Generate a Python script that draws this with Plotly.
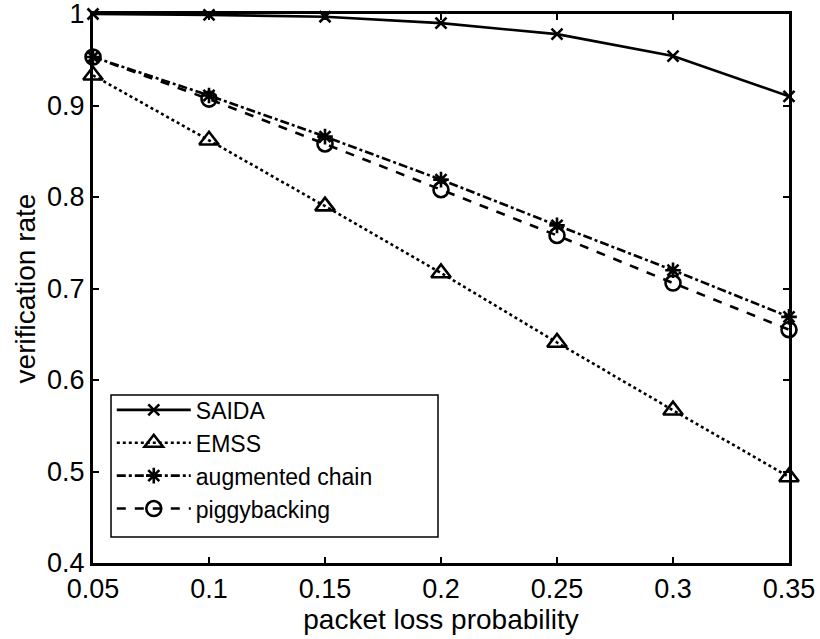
import plotly.graph_objects as go

x_vals = [0.05, 0.1, 0.15, 0.2, 0.25, 0.3, 0.35]
x_labels = ["0.05", "0.1", "0.15", "0.2", "0.25", "0.3", "0.35"]
y_ticks = [0.4, 0.5, 0.6, 0.7, 0.8, 0.9, 1.0]
y_labels = ["0.4", "0.5", "0.6", "0.7", "0.8", "0.9", "1"]

saida = [1.0, 0.999, 0.997, 0.990, 0.978, 0.954, 0.910]
emss = [0.933, 0.862, 0.790, 0.717, 0.641, 0.567, 0.494]
augmented = [0.953, 0.911, 0.866, 0.819, 0.769, 0.720, 0.669]
piggy = [0.953, 0.907, 0.858, 0.808, 0.758, 0.706, 0.655]

series = [
    ("SAIDA", saida, "solid", "x-thin-open", 11),
    ("EMSS", emss, "dot", "triangle-up-open", 17),
    ("augmented chain", augmented, "dashdot", "asterisk-open", 13),
    ("piggybacking", piggy, "dash", "circle-open", 15),
]

fig = go.Figure()
for name, ys, dash, sym, size in series:
    fig.add_trace(go.Scatter(
        x=x_vals, y=ys, name=name, mode="lines+markers",
        line=dict(color="black", width=2.6, dash=dash),
        marker=dict(symbol=sym, size=size, color="black",
                    line=dict(color="black", width=2.6)),
        cliponaxis=False,
    ))

font = "Liberation Sans, Arial, Helvetica, sans-serif"
axis_common = dict(
    showline=True, linecolor="black", linewidth=3, mirror="ticks",
    ticks="inside", ticklen=6, tickwidth=2, tickcolor="black",
    showgrid=False, zeroline=False, automargin=False,
    ticklabeloverflow="allow",
    tickfont=dict(family=font, size=27, color="black"),
)
fig.update_xaxes(range=[0.05, 0.35], tickvals=x_vals, ticktext=x_labels,
                 title=dict(text="packet loss probability", standoff=2,
                            font=dict(family=font, size=28, color="black")),
                 **axis_common)
fig.update_yaxes(range=[0.4, 1.0], tickvals=y_ticks, ticktext=y_labels,
                 title=dict(text="verification rate", standoff=4,
                            font=dict(family=font, size=28, color="black")),
                 **axis_common)

# legend frame
fig.add_shape(type="rect", xref="paper", yref="paper",
              x0=0.0259, x1=0.4957, y0=0.0474, y1=0.306,
              line=dict(color="black", width=1.5), fillcolor="white",
              layer="above")

fig.update_layout(
    width=820, height=639,
    margin=dict(l=93, r=31, t=14, b=76),
    paper_bgcolor="white", plot_bgcolor="white",
    showlegend=True,
    legend=dict(x=0.027, y=0.318, xanchor="left", yanchor="top",
                borderwidth=0, bgcolor="rgba(0,0,0,0)",
                font=dict(family=font, size=23, color="black"),
                tracegroupgap=0, itemwidth=74),
)

fig.write_html("out.html")
